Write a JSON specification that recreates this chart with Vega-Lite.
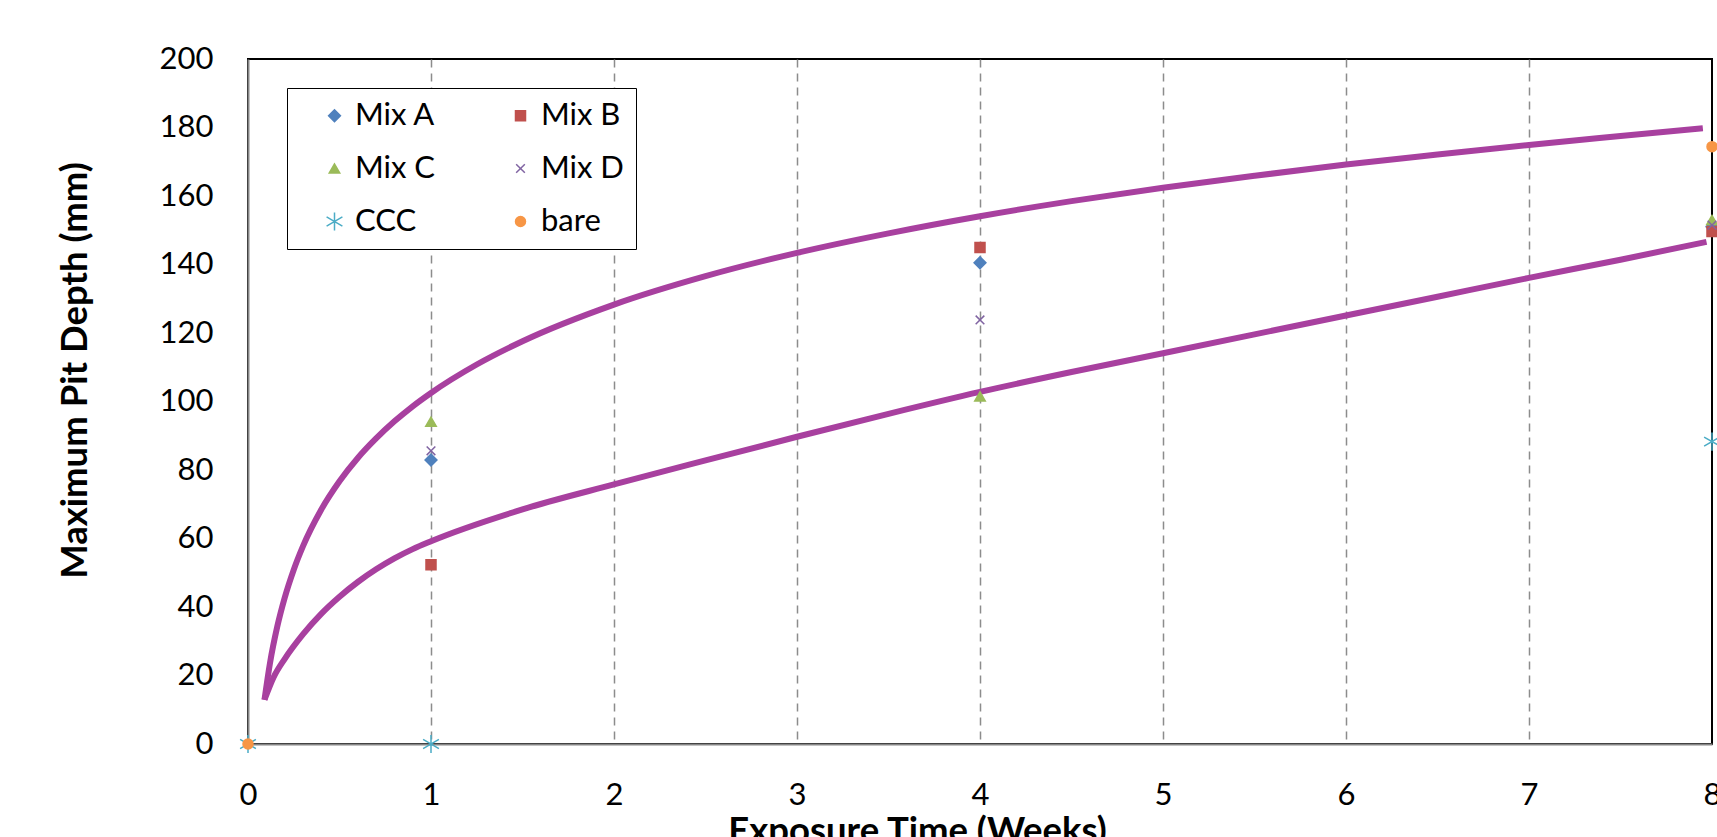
{
  "$schema": "https://vega.github.io/schema/vega-lite/v6.json",
  "width": 1464,
  "height": 685,
  "autosize": {"type": "none"},
  "padding": {"left": 248, "top": 59, "right": 5, "bottom": 93},
  "background": "white",
  "config": {
    "font": "Lato",
    "view": {"stroke": "black", "strokeWidth": 2}
  },
  "datasets": {
    "curves": [
      {"curve": "upper", "week": 0.09, "depth": 12.9},
      {"curve": "upper", "week": 0.12, "depth": 23.6},
      {"curve": "upper", "week": 0.16, "depth": 34.3},
      {"curve": "upper", "week": 0.2, "depth": 42.6},
      {"curve": "upper", "week": 0.25, "depth": 50.9},
      {"curve": "upper", "week": 0.3, "depth": 57.7},
      {"curve": "upper", "week": 0.4, "depth": 68.4},
      {"curve": "upper", "week": 0.5, "depth": 76.7},
      {"curve": "upper", "week": 0.6, "depth": 83.5},
      {"curve": "upper", "week": 0.7, "depth": 89.2},
      {"curve": "upper", "week": 0.8, "depth": 94.2},
      {"curve": "upper", "week": 0.9, "depth": 98.6},
      {"curve": "upper", "week": 1.0, "depth": 102.5},
      {"curve": "upper", "week": 1.25, "depth": 110.8},
      {"curve": "upper", "week": 1.5, "depth": 117.6},
      {"curve": "upper", "week": 2.0, "depth": 128.3},
      {"curve": "upper", "week": 2.5, "depth": 136.6},
      {"curve": "upper", "week": 3.0, "depth": 143.4},
      {"curve": "upper", "week": 3.5, "depth": 149.1},
      {"curve": "upper", "week": 4.0, "depth": 154.1},
      {"curve": "upper", "week": 4.5, "depth": 158.5},
      {"curve": "upper", "week": 5.0, "depth": 162.4},
      {"curve": "upper", "week": 5.5, "depth": 165.9},
      {"curve": "upper", "week": 6.0, "depth": 169.2},
      {"curve": "upper", "week": 6.5, "depth": 172.1},
      {"curve": "upper", "week": 7.0, "depth": 174.9},
      {"curve": "upper", "week": 7.5, "depth": 177.5},
      {"curve": "upper", "week": 7.95, "depth": 179.8},
      {"curve": "lower", "week": 0.09, "depth": 12.9},
      {"curve": "lower", "week": 0.14, "depth": 19.5},
      {"curve": "lower", "week": 0.2, "depth": 24.8},
      {"curve": "lower", "week": 0.3, "depth": 32},
      {"curve": "lower", "week": 0.4, "depth": 38},
      {"curve": "lower", "week": 0.5, "depth": 43},
      {"curve": "lower", "week": 0.6, "depth": 47.3},
      {"curve": "lower", "week": 0.7, "depth": 51},
      {"curve": "lower", "week": 0.8, "depth": 54.2},
      {"curve": "lower", "week": 0.9, "depth": 56.9},
      {"curve": "lower", "week": 1.0, "depth": 59.2},
      {"curve": "lower", "week": 1.5, "depth": 68.5},
      {"curve": "lower", "week": 2.0, "depth": 75.8},
      {"curve": "lower", "week": 2.5, "depth": 82.8},
      {"curve": "lower", "week": 3.0, "depth": 89.7},
      {"curve": "lower", "week": 3.5, "depth": 96.4},
      {"curve": "lower", "week": 4.0, "depth": 102.8},
      {"curve": "lower", "week": 4.5, "depth": 108.6},
      {"curve": "lower", "week": 5.0, "depth": 114.1},
      {"curve": "lower", "week": 5.5, "depth": 119.6},
      {"curve": "lower", "week": 6.0, "depth": 125.1},
      {"curve": "lower", "week": 6.5, "depth": 130.6},
      {"curve": "lower", "week": 7.0, "depth": 136.1},
      {"curve": "lower", "week": 7.5, "depth": 141.4},
      {"curve": "lower", "week": 7.97, "depth": 146.6}
    ],
    "points": [
      {"series": "Mix A", "week": 1, "depth": 82.9},
      {"series": "Mix A", "week": 4, "depth": 140.5},
      {"series": "Mix A", "week": 8, "depth": 151},
      {"series": "Mix B", "week": 1, "depth": 52.3},
      {"series": "Mix B", "week": 4, "depth": 145},
      {"series": "Mix B", "week": 8, "depth": 149.6},
      {"series": "Mix C", "week": 1, "depth": 94.1},
      {"series": "Mix C", "week": 4, "depth": 101.5},
      {"series": "Mix C", "week": 8, "depth": 153},
      {"series": "Mix D", "week": 1, "depth": 85.6},
      {"series": "Mix D", "week": 4, "depth": 123.8},
      {"series": "Mix D", "week": 8, "depth": 151.5},
      {"series": "CCC", "week": 0, "depth": 0},
      {"series": "CCC", "week": 1, "depth": 0},
      {"series": "CCC", "week": 8, "depth": 88.3},
      {"series": "bare", "week": 0, "depth": 0},
      {"series": "bare", "week": 8, "depth": 174.4}
    ]
  },
  "encoding": {
    "x": {
      "field": "week",
      "type": "quantitative",
      "scale": {"domain": [0, 8], "nice": false, "zero": false},
      "axis": {
        "values": [0, 1, 2, 3, 4, 5, 6, 7, 8],
        "grid": true,
        "gridDash": [8, 6],
        "gridWidth": 1.5,
        "gridColor": {"condition": {"test": "datum.value === 0 || datum.value === 8", "value": "transparent"}, "value": "#8c8c8c"},
        "domainColor": "#868686",
        "domainWidth": 2,
        "ticks": false,
        "labelFontSize": 31,
        "labelColor": "black",
        "labelPadding": 36,
        "labelFlush": false,
        "title": "Exposure Time (Weeks)",
        "titleFontSize": 36.5,
        "titleFontWeight": "bold",
        "titleColor": "black",
        "titleX": 669,
        "titleY": 69,
        "titleAlign": "center",
        "titleBaseline": "top"
      }
    },
    "y": {
      "field": "depth",
      "type": "quantitative",
      "scale": {"domain": [0, 200], "nice": false},
      "axis": {
        "values": [0, 20, 40, 60, 80, 100, 120, 140, 160, 180, 200],
        "grid": false,
        "domainColor": "#868686",
        "domainWidth": 2,
        "ticks": false,
        "labelFontSize": 31,
        "labelColor": "black",
        "labelPadding": 35,
        "labelBaseline": "middle",
        "title": "Maximum Pit Depth (mm)",
        "titleFontSize": 36.5,
        "titleFontWeight": "bold",
        "titleColor": "black",
        "titleAngle": 270,
        "titleX": -173,
        "titleY": 311,
        "titleAlign": "center",
        "titleBaseline": "middle"
      }
    }
  },
  "layer": [
    {
      "data": {"name": "curves"},
      "mark": {"type": "line", "color": "#A8409F", "strokeWidth": 6, "interpolate": "monotone", "strokeCap": "butt"},
      "encoding": {"detail": {"field": "curve", "type": "nominal"}}
    },
    {
      "data": {"name": "points"},
      "mark": {"type": "point", "filled": false, "strokeWidth": 1.5, "opacity": 1, "clip": false},
      "encoding": {
        "color": {
          "field": "series",
          "type": "nominal",
          "scale": {
            "domain": ["Mix A", "Mix B", "Mix C", "Mix D", "CCC", "bare"],
            "range": ["#4F81BD", "#C0504D", "#9BBB59", "#8064A2", "#4BACC6", "#F79646"]
          },
          "legend": {
            "title": null,
            "orient": "none",
            "legendX": 39,
            "legendY": 29,
            "columns": 2,
            "direction": "horizontal",
            "labelFontSize": 31,
            "labelColor": "black",
            "labelFont": "Lato",
            "labelOffset": 5,
            "strokeColor": "black",
            "fillColor": "white",
            "padding": 12,
            "rowPadding": 21,
            "columnPadding": 49,
            "symbolOffset": 20,
            "symbolStrokeWidth": 1.5,
            "symbolOpacity": 1
          }
        },
        "fill": {
          "field": "series",
          "type": "nominal",
          "scale": {
            "domain": ["Mix A", "Mix B", "Mix C", "Mix D", "CCC", "bare"],
            "range": ["#4F81BD", "#C0504D", "#9BBB59", "transparent", "transparent", "#F79646"]
          }
        },
        "shape": {
          "field": "series",
          "type": "nominal",
          "scale": {
            "domain": ["Mix A", "Mix B", "Mix C", "Mix D", "CCC", "bare"],
            "range": ["diamond", "square", "triangle-up", "M-1,-1L1,1M-1,1L1,-1", "M0,-1L0,1M-0.87,-0.5L0.87,0.5M-0.87,0.5L0.87,-0.5", "circle"]
          }
        },
        "size": {
          "field": "series",
          "type": "nominal",
          "scale": {
            "type": "ordinal",
            "domain": ["Mix A", "Mix B", "Mix C", "Mix D", "CCC", "bare"],
            "range": [140, 100, 110, 75, 330, 100]
          }
        }
      }
    }
  ]
}
